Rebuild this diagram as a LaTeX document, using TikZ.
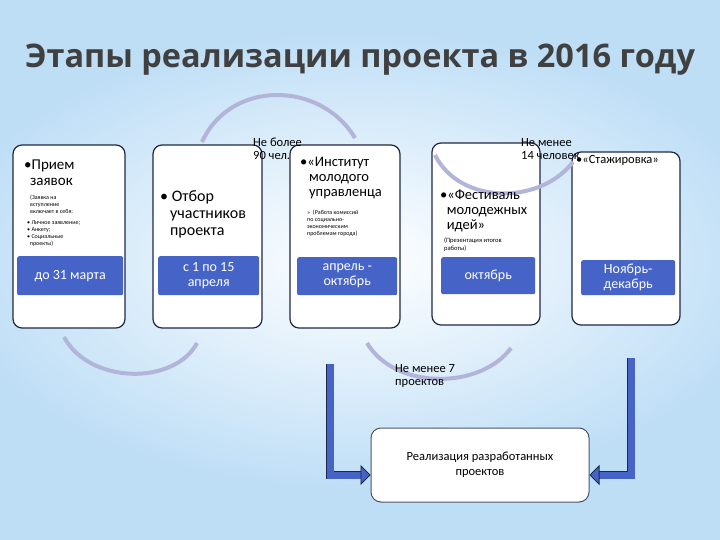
\documentclass[tikz,border=0pt]{standalone}
\usepackage{fontspec}
\setmainfont{Carlito}
\newfontfamily\titlefont{Open Sans}
\usetikzlibrary{arrows.meta}
\definecolor{bgblue}{RGB}{190,222,246}
\definecolor{barblue}{RGB}{70,100,200}
\definecolor{arcc}{RGB}{178,180,218}
\definecolor{edge}{RGB}{30,40,70}
\tikzset{
 stage/.style={draw=edge,line width=1.2pt,rounded corners=9pt},
 bar/.style={fill=barblue,rounded corners=2pt,text=white,align=center,font=\fontsize{14}{15}\selectfont},
 arcline/.style={draw=arcc,line width=4pt},
 bigarrow/.style={draw=edge,line width=0.8pt,double=barblue,double distance=7pt,-{Triangle[length=10pt,width=20pt,fill=barblue]}},
 lbl/.style={align=left,anchor=north west,inner sep=0pt,font=\fontsize{12.5}{13}\selectfont},
 tiny/.style={align=left,anchor=north west,inner sep=0pt,font=\fontsize{6}{7}\selectfont}
}
\begin{document}
\begin{tikzpicture}[x=1pt,y=-1pt]
\useasboundingbox (0,0) rectangle (720,540);
\fill[bgblue] (0,0) rectangle (720,540);
\shade[inner color=white,outer color=bgblue] (360,260) ellipse (420 and 230);
\node[font=\titlefont\bfseries\fontsize{32.5}{36}\selectfont,text=black!75] (title) at (360,60) {Этапы реализации проекта в 2016 году};
% arcs
\draw[arcline] (202,142) .. controls (230,80) and (320,80) .. (355,138);
\draw[arcline] (64,337) .. controls (90,385) and (175,385) .. (197,343);
\draw[arcline] (367,343) .. controls (395,390) and (480,390) .. (511,348);
% stages
\draw[stage,fill=white] (13,145) rectangle (125,328);
\draw[stage,fill=white] (153,145) rectangle (262,328);
\draw[stage,fill=white] (290,145) rectangle (400,328);
\draw[stage,fill=white] (432,143) rectangle (540,325);
\draw[stage,fill=white] (572,152) rectangle (680,325);
\draw[arcline] (435,155) .. controls (460,205) and (540,205) .. (573,162);
\node[bar,minimum width=106pt,minimum height=39pt,anchor=north west] (b1) at (17,256) {до 31 марта};
\node[bar,minimum width=101pt,minimum height=39pt,anchor=north west] (b2) at (158,256) {с 1 по 15\\апреля};
\node[bar,minimum width=100pt,minimum height=38pt,anchor=north west] (b3) at (297,257) {апрель -\\октябрь};
\node[bar,minimum width=94pt,minimum height=37pt,anchor=north west] (b4) at (441,257) {октябрь};
\node[bar,minimum width=94pt,minimum height=35pt,anchor=north west] (b5) at (581,260) {Ноябрь-\\декабрь};
% texts
\node[lbl,font=\fontsize{15}{16}\selectfont] (t1) at (24,160) {•Прием\\\ \,заявок};
\node[tiny] (t1b) at (30,195) {(Заявка на\\вступление\\включает в себя:};
\node[tiny] (t1c) at (27,220) {• Личное заявление;\\• Анкету;\\• Социальные\\\ \ проекты)};
\node[lbl,font=\fontsize{16}{17}\selectfont] (t2) at (160,190) {• Отбор\\\ \ \,участников\\\ \ \,проекта};
\node[lbl] (n90) at (253,138) {Не более\\90 чел.};
\node[lbl,font=\fontsize{14.5}{15}\selectfont] (t3) at (300,157) {•«Институт\\\ \ \,молодого\\\ \ \,управленца};
\node[tiny] (t3b) at (307,210) {»\ \ (Работа комиссий\\по социально-\\экономическим\\проблемам города)};
\node[lbl] (n14) at (521,138) {Не менее\\14 человек};
\node[lbl] (t5) at (576,155) {•«Стажировка»};
\node[lbl,font=\fontsize{14.5}{15}\selectfont] (t4) at (440,190) {•«Фестиваль\\\ \ молодежных\\\ \ идей»};
\node[tiny,font=\fontsize{6.5}{7.5}\selectfont] (t4b) at (444,238) {(Презентация итогов\\работы)};
\node[lbl] (n7) at (395,364) {Не менее 7\\проектов};
% bottom box
\node[draw=edge!80,line width=1pt,rounded corners=10pt,fill=white,minimum width=218pt,minimum height=74pt,align=center,font=\fontsize{12.5}{15}\selectfont] (impl) at (480,465) {Реализация разработанных\\проектов};
\coordinate (a1) at (330,364);
\coordinate (a2) at (631,358);
\draw[bigarrow] (a1) -- (330,475) -- (impl.west |- 0,475);
\draw[bigarrow] (a2) -- (631,475) -- (impl.east |- 0,475);
\end{tikzpicture}
\end{document}
